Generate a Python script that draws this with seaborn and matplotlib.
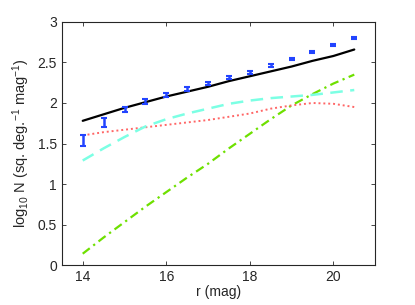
import numpy as np
import pandas as pd
import matplotlib
matplotlib.use("Agg")
import matplotlib.pyplot as plt
import seaborn as sns

# ===============================================
# Data
# ===============================================
r_obs = [14.0, 14.5, 15.0, 15.5, 16.0, 16.5, 17.0, 17.5, 18.0, 18.5, 19.0, 19.5, 20.0, 20.5]
logn_obs = [1.54, 1.76, 1.92, 2.02, 2.10, 2.17, 2.24, 2.31, 2.38, 2.46, 2.54, 2.63, 2.71, 2.80]
logn_err = [0.07, 0.055, 0.035, 0.03, 0.025, 0.022, 0.02, 0.02, 0.02, 0.018, 0.015, 0.013, 0.012, 0.01]

r_model = [14.0, 14.5, 15.0, 15.5, 16.0, 16.5, 17.0, 17.5, 18.0, 18.5, 19.0, 19.5, 20.0, 20.5]
total = [1.78, 1.86, 1.94, 2.01, 2.08, 2.14, 2.20, 2.27, 2.33, 2.39, 2.45, 2.52, 2.58, 2.66]
cyan = [1.29, 1.44, 1.58, 1.71, 1.80, 1.87, 1.93, 1.99, 2.03, 2.06, 2.08, 2.10, 2.13, 2.16]
red = [1.60, 1.64, 1.67, 1.70, 1.73, 1.76, 1.79, 1.83, 1.87, 1.93, 1.97, 2.00, 1.99, 1.95]
green = [0.14, 0.34, 0.53, 0.72, 0.90, 1.08, 1.25, 1.44, 1.62, 1.80, 1.97, 2.11, 2.24, 2.35]

df = pd.DataFrame({"r": r_model, "total": total, "cyan": cyan, "red": red, "green": green})

# ===============================================
# Style
# ===============================================
sns.set_style("ticks")
plt.rcParams["font.family"] = ["Liberation Sans", "DejaVu Sans"]
plt.rcParams["mathtext.fontset"] = "custom"
plt.rcParams["mathtext.rm"] = "Liberation Sans"
plt.rcParams["mathtext.it"] = "Liberation Sans:italic"
plt.rcParams["xtick.direction"] = "in"
plt.rcParams["ytick.direction"] = "in"
plt.rcParams["xtick.top"] = True
plt.rcParams["ytick.right"] = True

fig = plt.figure(figsize=(4.15, 3.05), dpi=100)
ax = fig.add_axes([0.149, 0.131, 0.755, 0.797])

sns.lineplot(data=df, x="r", y="green", ax=ax, color="#6ee000", lw=1.6)
ax.lines[-1].set_linestyle((0, (4, 2, 1, 2)))
sns.lineplot(data=df, x="r", y="red", ax=ax, color="#ff6666", lw=1.4)
ax.lines[-1].set_linestyle((0, (1, 1.5)))
sns.lineplot(data=df, x="r", y="cyan", ax=ax, color="#7cffe4", lw=1.8)
ax.lines[-1].set_linestyle((0, (5, 3)))
sns.lineplot(data=df, x="r", y="total", ax=ax, color="black", lw=1.6)

ax.errorbar(r_obs, logn_obs, yerr=logn_err, fmt="none", ecolor="#2244ff",
            elinewidth=1.8, capsize=2.5, capthick=1.5)

ax.set_xlim(13.5, 21.0)
ax.set_ylim(0, 3)
ax.set_xticks([14, 16, 18, 20])
ax.set_yticks([0, 0.5, 1, 1.5, 2, 2.5, 3])
ax.set_yticklabels(["0", "0.5", "1", "1.5", "2", "2.5", "3"])
ax.tick_params(labelsize=10, length=3, width=0.6)
for s in ax.spines.values():
    s.set_visible(True)
    s.set_linewidth(0.8)

ax.set_xlabel("r (mag)", fontsize=10, labelpad=1)
ax.set_ylabel(r"log$_{10}$ N (sq. deg.$^{-1}$ mag$^{-1}$)", fontsize=10.5, labelpad=4)

fig.savefig("out.png", dpi=100)
